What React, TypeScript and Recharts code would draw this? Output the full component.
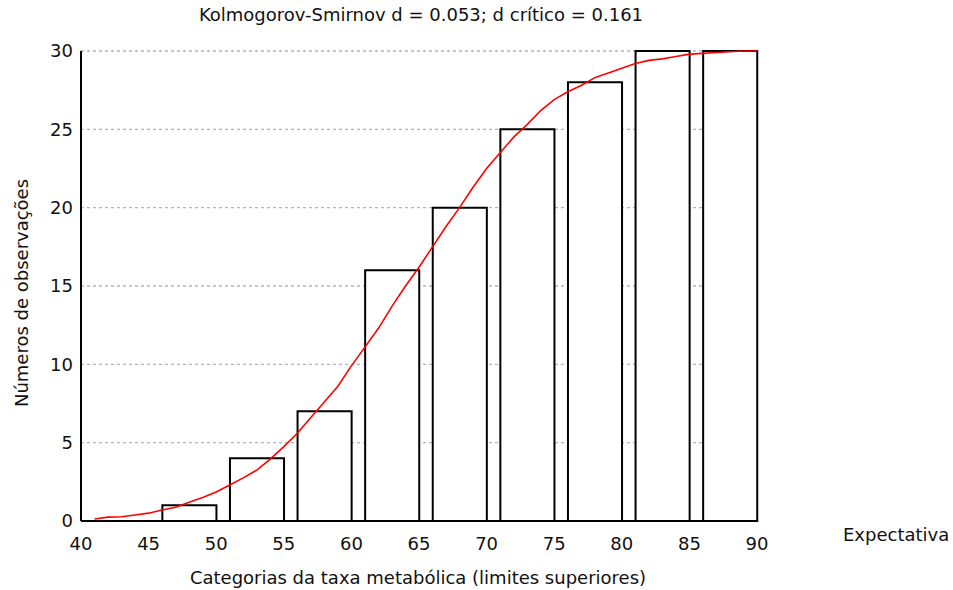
import {
  ComposedChart,
  Bar,
  Line,
  XAxis,
  YAxis,
  CartesianGrid,
  Legend,
} from "recharts";

// histogram bins (limites superiores) and observed cumulative counts
const binLower = [46, 51, 56, 61, 66, 71, 76, 81, 86];
const binUpper = [50, 55, 60, 65, 70, 75, 80, 85, 90];
const observed = [1, 4, 7, 16, 20, 25, 28, 30, 30];

// expected cumulative curve
const expectedX = [
  41, 42, 43, 44, 45, 46, 47, 48, 49, 50, 51, 52, 53, 54, 55, 56, 57, 58, 59, 60,
  61, 62, 63, 64, 65, 66, 67, 68, 69, 70, 71, 72, 73, 74, 75, 76, 77, 78, 79, 80,
  81, 82, 83, 84, 85, 86, 87, 88, 89, 90,
];
const expectedY = [
  0.13, 0.25, 0.27, 0.38, 0.5, 0.7, 0.88, 1.2, 1.5, 1.85, 2.3, 2.75, 3.25, 3.95,
  4.75, 5.6, 6.6, 7.6, 8.6, 9.9, 11.1, 12.3, 13.7, 15.0, 16.2, 17.5, 18.8, 20.0,
  21.3, 22.5, 23.5, 24.5, 25.3, 26.2, 26.9, 27.4, 27.8, 28.3, 28.6, 28.9, 29.2,
  29.4, 29.5, 29.65, 29.8, 29.85, 29.9, 29.95, 30, 30,
];

const xTicks = [40, 45, 50, 55, 60, 65, 70, 75, 80, 85, 90];
const yTicks = [0, 5, 10, 15, 20, 25, 30];

const title = "Kolmogorov-Smirnov d = 0.053; d crítico = 0.161";
const xTitle = "Categorias da taxa metabólica (limites superiores)";
const yTitle = "Números de observações";
const lineName = "Expectativa";

const W = 953;
const H = 590;
const margin = { top: 51, right: 196, bottom: 29, left: 41 };
const Y_AXIS_W = 40;
const X_AXIS_H = 40;
const FONT = "'DejaVu Sans', sans-serif";
const FS = 18;

const X_MIN = xTicks[0];
const X_MAX = xTicks[xTicks.length - 1];
const plotW = W - margin.left - margin.right - Y_AXIS_W;
const binWidth = binUpper[0] - binLower[0];
const barSize = (plotW / (X_MAX - X_MIN)) * binWidth;

const barRows = binLower.map((lo, i) => ({
  bin: (lo + binUpper[i]) / 2,
  observed: observed[i],
}));
const lineRows = expectedX.map((x, i) => ({ x, expected: expectedY[i] }));

const tickStyle = { fill: "#111", fontSize: FS, fontFamily: FONT };

export default function App() {
  return (
    <div
      style={{
        position: "absolute",
        left: 0,
        top: 0,
        width: W,
        height: H,
        background: "#fff",
        fontFamily: FONT,
      }}
    >
      <div
        style={{
          position: "absolute",
          left: 0,
          width: 842,
          top: 4,
          textAlign: "center",
          fontSize: FS,
          color: "#111",
        }}
      >
        {title}
      </div>
      <ComposedChart width={W} height={H} data={barRows} margin={margin}>
        <CartesianGrid
          horizontal
          vertical={false}
          stroke="#b4b4b4"
          strokeDasharray="3 3"
          strokeWidth={1.3}
        />
        {/* hidden axis for the histogram bins, same scale as the visible one */}
        <XAxis
          xAxisId="bins"
          dataKey="bin"
          type="number"
          domain={[X_MIN, X_MAX]}
          hide
        />
        <XAxis
          dataKey="x"
          type="number"
          domain={[X_MIN, X_MAX]}
          ticks={xTicks}
          height={X_AXIS_H}
          tickLine={false}
          tickSize={14}
          tickMargin={2}
          axisLine={{ stroke: "#000", strokeWidth: 2 }}
          tick={tickStyle}
          label={{
            content: () => (
              <text
                x={418}
                y={584}
                textAnchor="middle"
                fill="#111"
                fontSize={FS}
                fontFamily={FONT}
              >
                {xTitle}
              </text>
            ),
          }}
        />
        <YAxis
          type="number"
          domain={[0, 30]}
          ticks={yTicks}
          width={Y_AXIS_W}
          tickLine={false}
          tickSize={6}
          tickMargin={2}
          axisLine={{ stroke: "#000", strokeWidth: 2 }}
          tick={tickStyle}
          label={{
            content: () => (
              <text
                x={28}
                y={293}
                transform="rotate(-90 28 293)"
                textAnchor="middle"
                fill="#111"
                fontSize={FS}
                fontFamily={FONT}
              >
                {yTitle}
              </text>
            ),
          }}
        />
        <Legend
          layout="horizontal"
          verticalAlign="middle"
          align="center"
          wrapperStyle={{ left: 843, top: 524, width: 110, height: 24 }}
          content={({ payload }) => (
            <div style={{ fontSize: FS, color: "#111", fontFamily: FONT, whiteSpace: "nowrap" }}>
              {(payload || [])
                .filter((p) => p.value === lineName)
                .map((p) => (
                  <span key={String(p.value)}>{p.value}</span>
                ))}
            </div>
          )}
        />
        <Bar
          xAxisId="bins"
          dataKey="observed"
          name="Observado"
          barSize={barSize}
          fill="#fff"
          stroke="#000"
          strokeWidth={2}
          isAnimationActive={false}
          legendType="none"
        />
        <Line
          data={lineRows}
          dataKey="expected"
          name={lineName}
          type="linear"
          stroke="#ff0000"
          strokeWidth={1.6}
          dot={false}
          activeDot={false}
          isAnimationActive={false}
        />
      </ComposedChart>
    </div>
  );
}
